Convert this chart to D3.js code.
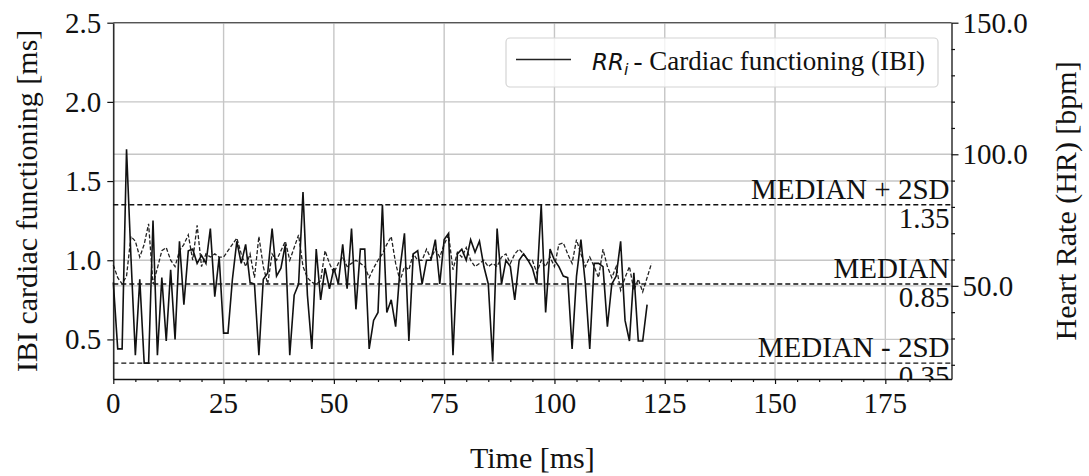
<!DOCTYPE html>
<html>
<head>
<meta charset="utf-8">
<script src="https://cdn.jsdelivr.net/npm/d3@7"></script>
<style>
  body { margin: 0; background: #fff; }
  svg { display: block; }
  text { font-family: "Liberation Serif", "Times New Roman", serif; fill: #111; }
</style>
</head>
<body>
<svg id="chart" width="1089" height="476"></svg>
<script>
// RR_i series (solid), one value per sample
const rrIbi = [
  0.86, 0.44, 0.44, 1.70, 1.02, 0.40, 0.88, 0.35, 0.35, 1.25,
  0.40, 0.89, 0.49, 0.94, 0.50, 1.12, 0.72, 1.06, 1.07, 0.98,
  1.03, 0.98, 1.20, 0.77, 1.02, 0.54, 0.54, 0.88, 1.12, 0.98,
  1.10, 0.86, 0.85, 0.40, 0.88, 0.92, 1.20, 0.90, 0.95, 1.10,
  0.40, 0.78, 0.85, 1.43, 0.78, 0.44, 1.07, 0.75, 0.95, 0.82,
  0.95, 0.85, 1.10, 0.82, 1.20, 0.69, 1.07, 1.07, 0.44, 0.62,
  0.67, 1.35, 0.67, 0.75, 0.58, 0.95, 1.17, 0.49, 1.04, 1.06,
  0.85, 1.00, 1.00, 1.13, 0.85, 1.13, 1.17, 0.40, 1.04, 1.07,
  1.00, 1.13, 1.05, 1.12, 0.96, 0.85, 0.36, 1.20, 0.85, 1.00,
  0.96, 0.75, 1.00, 1.04, 1.00, 0.95, 0.85, 1.35, 0.67, 1.07,
  1.00, 0.96, 0.90, 0.89, 0.44, 0.90, 1.13, 0.85, 0.44, 0.98,
  0.98, 0.96, 0.58, 0.85, 0.90, 1.12, 0.62, 0.49, 0.92, 0.49,
  0.49, 0.72
];

// second (dashed) series
const rrDashed = [
  0.97, 0.89, 0.85, 0.90, 1.15, 1.12, 1.02, 1.10, 1.23, 0.85,
  0.95, 1.06, 1.08, 1.00, 0.96, 1.06, 1.10, 1.16, 1.00, 1.22,
  0.96, 1.04, 1.02, 1.04, 1.02, 1.02, 1.06, 1.10, 1.14, 1.04,
  0.96, 1.04, 0.89, 1.15, 0.96, 0.85, 1.04, 1.00, 1.06, 1.12,
  1.00, 1.08, 1.16, 0.96, 0.89, 0.86, 0.85, 0.87, 1.06, 0.98,
  0.92, 0.98, 1.02, 0.96, 0.98, 1.00, 0.98, 0.96, 0.89, 0.95,
  1.00, 1.04, 1.10, 1.15, 0.98, 0.87, 0.96, 0.94, 1.04, 1.00,
  1.00, 1.07, 1.01, 1.07, 1.02, 1.10, 1.16, 0.94, 1.05, 1.02,
  1.08, 1.00, 0.96, 0.98, 1.00, 0.96, 0.98, 0.96, 1.02, 1.04,
  0.98, 1.04, 1.07, 1.04, 1.00, 1.00, 0.92, 1.00, 0.96, 1.02,
  0.96, 1.10, 1.11, 1.04, 0.98, 1.13, 1.04, 0.96, 1.02, 0.96,
  0.89, 1.07, 0.96, 0.89, 0.96, 0.81, 0.89, 0.96, 0.81, 0.88,
  0.80, 0.89, 0.98
];

const thresholdNames = ["MEDIAN + 2SD", "MEDIAN", "MEDIAN - 2SD"];
const thresholdValues = [1.35, 0.85, 0.35];

const xTicks = [0, 25, 50, 75, 100, 125, 150, 175];
const xMinorTicks = d3.range(0, 190, 5).filter(d => d % 25 !== 0);
const ibiTicks = [0.5, 1.0, 1.5, 2.0, 2.5];
const hrTicks = [50, 100, 150];
const hrMinorTicks = d3.range(20, 150, 10).filter(d => d % 50 !== 0);

const plot = { left: 113.3, top: 22.7, right: 951.5, bottom: 379 };
const svg = d3.select("#chart");

const x = d3.scaleLinear().domain([0, 190]).range([plot.left, plot.right]);
const y = d3.scaleLinear().domain([0.25, 2.5]).range([plot.bottom, plot.top]);
const yHr = d3.scaleLinear().domain([14.6, 150]).range([plot.bottom, plot.top]);

svg.append("defs").append("clipPath").attr("id", "plotClip")
  .append("rect")
  .attr("x", plot.left).attr("y", plot.top)
  .attr("width", plot.right - plot.left).attr("height", plot.bottom - plot.top);

// grid
const grid = svg.append("g").attr("stroke", "#c6c6c6").attr("stroke-width", 1.4);
grid.selectAll("line.v").data(xTicks).join("line").attr("class", "v")
  .attr("x1", d => x(d)).attr("x2", d => x(d))
  .attr("y1", plot.top).attr("y2", plot.bottom);
grid.selectAll("line.h").data(ibiTicks).join("line").attr("class", "h")
  .attr("x1", plot.left).attr("x2", plot.right)
  .attr("y1", d => y(d)).attr("y2", d => y(d));
grid.selectAll("line.hr").data(hrTicks).join("line").attr("class", "hr")
  .attr("x1", plot.left).attr("x2", plot.right)
  .attr("y1", d => yHr(d)).attr("y2", d => yHr(d));

// median / 2SD lines
svg.append("g").selectAll("line").data(thresholdValues).join("line")
  .attr("x1", plot.left).attr("x2", plot.right)
  .attr("y1", d => y(d)).attr("y2", d => y(d))
  .attr("stroke", "#111").attr("stroke-width", 1.4)
  .attr("stroke-dasharray", "5,3");

// series
const line = d3.line().x((d, i) => x(i)).y(d => y(d));
svg.append("path").datum(rrDashed)
  .attr("d", line)
  .attr("fill", "none")
  .attr("stroke", "#222")
  .attr("stroke-width", 1.3)
  .attr("stroke-dasharray", "4,2");
svg.append("path").datum(rrIbi)
  .attr("d", line)
  .attr("fill", "none")
  .attr("stroke", "#111")
  .attr("stroke-width", 1.6)
  .attr("stroke-linejoin", "miter");

// threshold annotations, clipped to the axes like the original
const notes = svg.append("g").attr("clip-path", "url(#plotClip)")
  .attr("text-anchor", "end").attr("font-size", 29);
notes.selectAll("text.name").data(thresholdValues).join("text").attr("class", "name")
  .attr("x", plot.right - 2)
  .attr("y", d => y(d) - 6)
  .text((d, i) => thresholdNames[i]);
notes.selectAll("text.val").data(thresholdValues).join("text").attr("class", "val")
  .attr("x", plot.right - 2)
  .attr("y", d => y(d) + 23)
  .text(d => d3.format(".2f")(d));

// axes: d3 draws the spines and tick marks, labels are plain text below
function styleAxis(g) {
  g.selectAll("line").attr("stroke", "#111").attr("stroke-width", 1.2);
  g.select(".domain").attr("stroke", "#111").attr("stroke-width", 1.3);
}

svg.append("g").attr("transform", `translate(0,${plot.bottom})`)
  .call(d3.axisBottom(x).tickValues(xTicks).tickSize(5).tickSizeOuter(0).tickFormat(""))
  .call(styleAxis);
svg.append("g").attr("transform", `translate(0,${plot.bottom})`)
  .call(d3.axisBottom(x).tickValues(xMinorTicks).tickSize(3).tickSizeOuter(0).tickFormat(""))
  .call(g => g.select(".domain").remove())
  .call(styleAxis);
svg.append("g").attr("transform", `translate(${plot.left},0)`)
  .call(d3.axisLeft(y).tickValues(ibiTicks).tickSize(6).tickSizeOuter(0).tickFormat(""))
  .call(styleAxis);
svg.append("g").attr("transform", `translate(${plot.right},0)`)
  .call(d3.axisRight(yHr).tickValues(hrTicks).tickSize(7).tickSizeOuter(0).tickFormat(""))
  .call(styleAxis);
svg.append("g").attr("transform", `translate(${plot.right},0)`)
  .call(d3.axisRight(yHr).tickValues(hrMinorTicks).tickSize(3.5).tickSizeOuter(0).tickFormat(""))
  .call(g => g.select(".domain").remove())
  .call(styleAxis);

const tickLabels = svg.append("g").attr("font-size", 29);
tickLabels.selectAll("text.xt").data(xTicks).join("text").attr("class", "xt")
  .attr("text-anchor", "middle")
  .attr("x", d => x(d)).attr("y", plot.bottom + 34)
  .text(d => d);
tickLabels.selectAll("text.yt").data(ibiTicks).join("text").attr("class", "yt")
  .attr("text-anchor", "end")
  .attr("x", plot.left - 12).attr("y", d => y(d) + 10)
  .text(d => d3.format(".1f")(d));
tickLabels.selectAll("text.hrt").data(hrTicks).join("text").attr("class", "hrt")
  .attr("text-anchor", "start")
  .attr("x", plot.right + 11).attr("y", d => yHr(d) + 10)
  .text(d => d3.format(".1f")(d));

// top spine
svg.append("line")
  .attr("x1", plot.left).attr("x2", plot.right)
  .attr("y1", plot.top).attr("y2", plot.top)
  .attr("stroke", "#555").attr("stroke-width", 1.2);

// axis titles
svg.append("text")
  .attr("text-anchor", "middle").attr("font-size", 30)
  .attr("x", (plot.left + plot.right) / 2).attr("y", 468)
  .text("Time [ms]");
svg.append("text")
  .attr("text-anchor", "middle").attr("font-size", 30)
  .attr("transform", `translate(37,${(plot.top + plot.bottom) / 2}) rotate(-90)`)
  .text("IBI cardiac functioning [ms]");
svg.append("text")
  .attr("text-anchor", "middle").attr("font-size", 30)
  .attr("transform", `translate(1076,${(plot.top + plot.bottom) / 2}) rotate(-90)`)
  .text("Heart Rate (HR) [bpm]");

// legend
const legend = svg.append("g");
legend.append("rect")
  .attr("x", 506).attr("y", 38).attr("width", 432).attr("height", 49)
  .attr("rx", 4)
  .attr("fill", "#fff").attr("fill-opacity", 0.8)
  .attr("stroke", "#d4d4d4").attr("stroke-width", 1.2);
legend.append("line")
  .attr("x1", 516).attr("x2", 571).attr("y1", 59.5).attr("y2", 59.5)
  .attr("stroke", "#222").attr("stroke-width", 1.5);
const legendText = legend.append("text").attr("x", 592).attr("y", 70);
legendText.append("tspan")
  .attr("font-family", "DejaVu Sans").attr("font-style", "italic").attr("font-size", 23)
  .text("RR");
legendText.append("tspan")
  .attr("font-family", "DejaVu Sans").attr("font-style", "italic").attr("font-size", 16)
  .attr("dy", 5).text("i");
legendText.append("tspan")
  .attr("font-size", 27).attr("dy", -5).attr("dx", 5)
  .text("- Cardiac functioning (IBI)");
</script>
</body>
</html>
